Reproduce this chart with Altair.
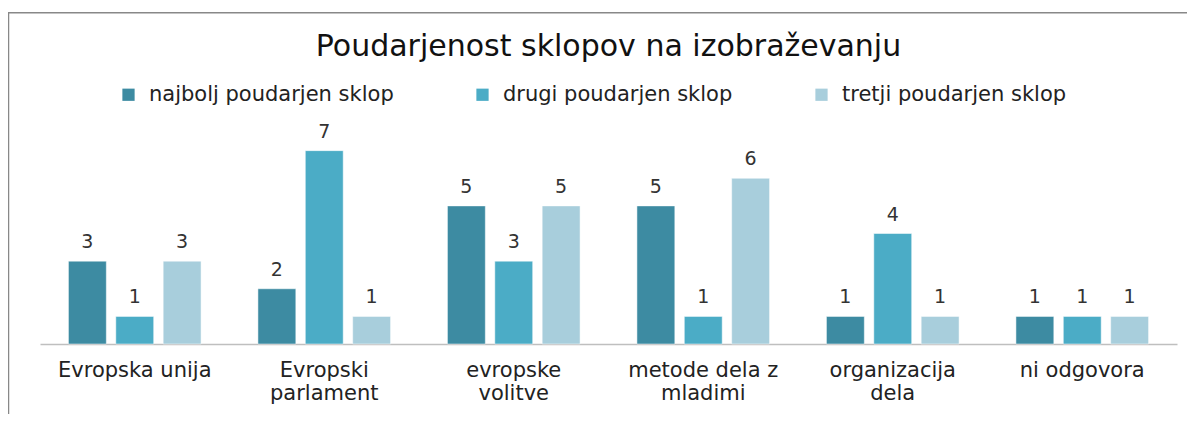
import altair as alt
import pandas as pd

categories = ["Evropska unija", "Evropski\nparlament", "evropske\nvolitve",
              "metode dela z\nmladimi", "organizacija\ndela", "ni odgovora"]
series = ["najbolj poudarjen sklop", "drugi poudarjen sklop", "tretji poudarjen sklop"]
najbolj = [3, 2, 5, 5, 1, 1]
drugi = [1, 7, 3, 1, 4, 1]
tretji = [3, 1, 5, 6, 1, 1]
colors = ["#3D8BA2", "#4BACC6", "#A8CEDC"]

rows = []
for vals, s in zip([najbolj, drugi, tretji], series):
    for c, v in zip(categories, vals):
        rows.append({"kategorija": c, "sklop": s, "vrednost": v})
df = pd.DataFrame(rows)

FONT = "DejaVu Sans"

x_enc = alt.X("kategorija:N", sort=categories,
              scale=alt.Scale(paddingInner=0.3, paddingOuter=0.15),
              axis=alt.Axis(title=None, labelAngle=0, ticks=False,
                            domainColor="#BFBFBF", domainWidth=1.5,
                            labelFontSize=21, labelFont=FONT, labelColor="#222222",
                            labelPadding=15, labelLineHeight=23, labelLimit=300,
                            labelExpr="split(datum.label, '\\n')"))
y_enc = alt.Y("vrednost:Q", scale=alt.Scale(domain=[0, 8], nice=False), axis=None)
xoff = alt.XOffset("sklop:N", sort=series, scale=alt.Scale(paddingInner=0.2))

base = alt.Chart(df)

frame = alt.Chart(pd.DataFrame({"k": [0]})).mark_rect(
    fill=None, stroke="#888888", strokeWidth=1.5, clip=False
).encode(x=alt.value(-31.5), x2=alt.value(1200), y=alt.value(-110.3), y2=alt.value(400))

bars = base.mark_bar(stroke="white", strokeWidth=0.5).encode(
    x=x_enc, y=y_enc, xOffset=xoff,
    color=alt.Color("sklop:N", sort=series,
                    scale=alt.Scale(domain=series, range=colors),
                    legend=alt.Legend(title=None, orient="none", direction="horizontal",
                                      legendX=78, legendY=-39,
                                      symbolType="square", symbolSize=150,
                                      symbolStrokeWidth=0, labelFont=FONT,
                                      labelFontSize=21, labelColor="#222222",
                                      labelLimit=400,
                                      labelOffset=10, columnPadding=78, padding=0))
)

labels = base.mark_text(baseline="alphabetic", dy=-13, fontSize=19, font=FONT,
                        color="#333333").encode(
    x=x_enc, y=y_enc, xOffset=xoff, text="vrednost:Q"
)

chart = alt.layer(frame, bars, labels).properties(
    width=1137, height=221,
    padding={"left": 32, "top": 115, "right": 10, "bottom": 70},
    autosize=alt.AutoSizeParams(type="none"),
    title=alt.TitleParams("Poudarjenost sklopov na izobraževanju", fontSize=30,
                          font=FONT, fontWeight="normal", color="#111111",
                          anchor="middle", frame="group", offset=-50),
).configure_view(stroke=None)

chart.save("out.html", embed_options={"renderer": "svg", "actions": False})
